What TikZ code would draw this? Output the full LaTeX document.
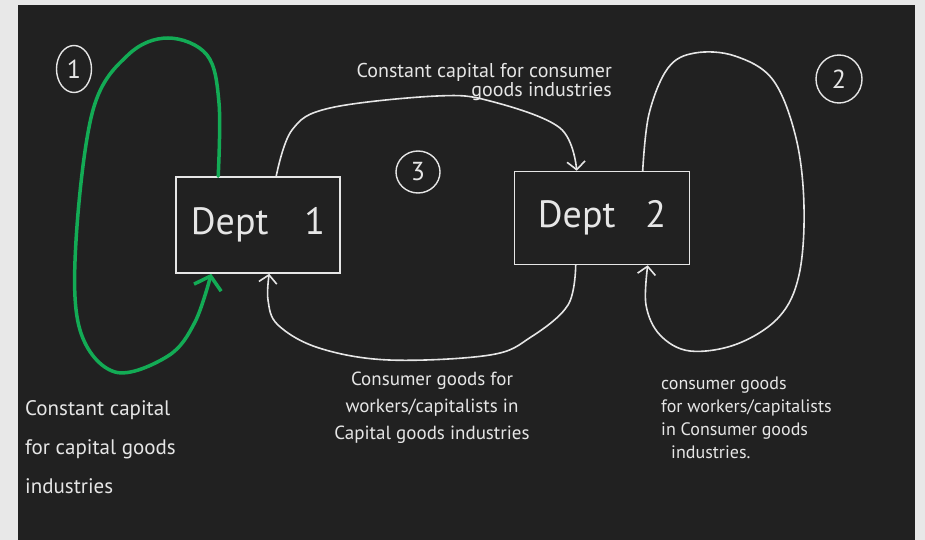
\documentclass[tikz,border=0pt]{standalone}
\usepackage{fontspec}
\setmainfont{PT Sans}
\usetikzlibrary{arrows.meta,shapes.geometric}
\definecolor{board}{HTML}{212121}
\definecolor{chalk}{HTML}{E6E6E6}
\definecolor{margin}{HTML}{E8E8E8}
\definecolor{marker}{HTML}{13AB55}

\begin{document}
\begin{tikzpicture}[x=1pt,y=-1pt,
  flow/.style={draw=chalk,line width=1.6pt,line cap=round,line join=round,
    -{Straight Barb[length=8pt,width=18pt]}},
  green flow/.style={flow,draw=marker,line width=3.5pt,
    -{Straight Barb[length=12pt,width=28pt]}},
  dept node/.style={rectangle,draw=chalk,line width=1.6pt,text=chalk,
    font=\fontsize{38}{38}\selectfont},
  num node/.style={ellipse,draw=chalk,line width=1.4pt,text=chalk,inner sep=0pt,
    font=\fontsize{26}{26}\selectfont},
  note/.style={text=chalk,inner sep=0pt,font=\fontsize{19}{27}\selectfont}]

  % board
  \fill[margin] (0,0) rectangle (925,540);
  \fill[board] (18,5) rectangle (915,540);
  \useasboundingbox (0,0) rectangle (925,540);

  \node[dept node,minimum width=164pt,minimum height=96pt] (d1) at (258,225) {Dept\hspace{36pt}1};
  \node[dept node,minimum width=175pt,minimum height=93pt] (d2) at (602,218) {Dept\hspace{30pt}2};

  \node[num node,minimum width=35pt,minimum height=47pt] (n1) at (74,69) {1};
  \node[num node,minimum width=46pt,minimum height=48pt] (n2) at (839,79) {2};
  \node[num node,minimum width=44pt,minimum height=42pt] (n3) at (418,172) {3};

  \node[note,anchor=east,align=right,font=\fontsize{20}{18}\selectfont] (top note) at (612,82)
    {Constant capital for consumer\\goods industries};
  \node[note,anchor=north west,align=left,font=\fontsize{21}{39}\selectfont] (left note) at (25,400)
    {Constant capital\\for capital goods\\industries};
  \node[note,anchor=north,align=center] (mid note) at (432,372)
    {Consumer goods for\\workers/capitalists in\\Capital goods industries};
  \node[note,anchor=north west,align=left,font=\fontsize{18}{23}\selectfont] (right note) at (661,377)
    {consumer goods\\for workers/capitalists\\in Consumer goods\\\hspace{10pt}industries.};

  % loop 1: dept 1 back into itself
  \draw[green flow] plot[smooth,tension=0.6] coordinates {([xshift=43pt]d1.north west)
    (219,103) (207,55) (168,38) (128,55) (93,110) (76,241) (80,330) (115,372) (168,356)
    (195,322) ([xshift=36pt]d1.south west)};

  % loop 2: dept 2 back into itself
  \draw[flow] plot[smooth,tension=0.6] coordinates {([xshift=129pt]d2.north west)
    (649,114) (668,68) (695,53) (735,56) (773,80) (796,138) (804,207) (799,275) (779,317)
    (737,344) (690,351) (660,335) (646,305) ([xshift=134pt]d2.south west)};

  % loop 3: exchange between the two
  \draw[flow] plot[smooth,tension=0.6] coordinates {([xshift=101pt]d1.north west)
    (292,130) (330,108) (437,96) (490,101) (560,128) ([xshift=63pt]d2.north west)};
  \draw[flow] plot[smooth,tension=0.6] coordinates {([xshift=62pt]d2.south west)
    (568,305) (531,337) (490,355) (389,360) (319,348) (278,325) (268,300)
    ([xshift=94pt]d1.south west)};
\end{tikzpicture}
\end{document}
